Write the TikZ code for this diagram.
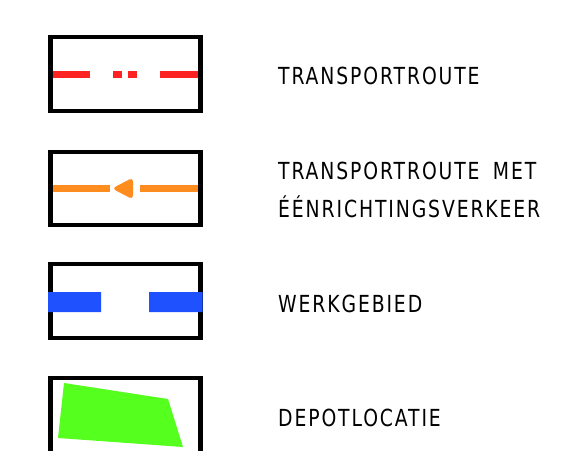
\documentclass[tikz,border=0pt]{standalone}
\usepackage{fontspec}
\setsansfont{DejaVu Sans}[FakeStretch=0.8, LetterSpace=8, WordSpace=1.7]
\usepackage{xcolor}
\definecolor{routered}{RGB}{255,34,34}
\definecolor{routeorange}{RGB}{255,140,30}
\definecolor{areablue}{RGB}{31,81,255}
\definecolor{depotgreen}{RGB}{85,255,30}

\begin{document}
\begin{tikzpicture}[x=1pt, y=-1pt,
    legendbox/.style={rectangle, draw=black, line width=4.4pt, minimum width=150pt, minimum height=73.5pt, inner sep=0pt},
    legendtext/.style={anchor=base west, inner sep=0pt, font=\sffamily\fontsize{23.5pt}{28pt}\selectfont},
    routeline/.style={line width=6.6pt, line cap=butt}]
    \useasboundingbox (0,0) rectangle (573,450);
    \clip (0,0) rectangle (573,450);

    % Transportroute
    \draw [routeline, color=routered] (49.5,74.5) -- (90,74.5) (113,74.5) -- (122,74.5) (128,74.5) -- (137,74.5) (160,74.5) -- (201,74.5);
    \node (box1) [legendbox] at (125.3,74) {};
    \node (lbl1) [legendtext] at (278,84) {TRANSPORTROUTE};

    % Transportroute met eenrichtingsverkeer
    \draw [routeline, color=routeorange] (49.5,188.5) -- (110,188.5) (140,188.5) -- (201,188.5);
    \fill [routeorange, rounded corners=4pt] (112,188.5) -- (133,177.5) -- (133,199.5) -- cycle;
    \node (box2) [legendbox] at (125.3,188.5) {};
    \node (lbl2a) [legendtext] at (278,179) {TRANSPORTROUTE MET};
    \node (lbl2b) [legendtext] at (278,217) {ÉÉNRICHTINGSVERKEER};

    % Werkgebied
    \node (box3) [legendbox] at (125.3,301) {};
    \fill [areablue] (48,292) rectangle (101,312) (149,292) rectangle (202.5,312);
    \node (lbl3) [legendtext] at (278,312) {WERKGEBIED};

    % Depotlocatie
    \draw [black, line width=4.4pt] (50.3,470) -- (50.3,378) -- (200.3,378) -- (200.3,470);
    \fill [depotgreen] (64,383) -- (168,399) -- (183,447) -- (58,438) -- cycle;
    \node (lbl4) [legendtext] at (278,426) {DEPOTLOCATIE};
\end{tikzpicture}
\end{document}
